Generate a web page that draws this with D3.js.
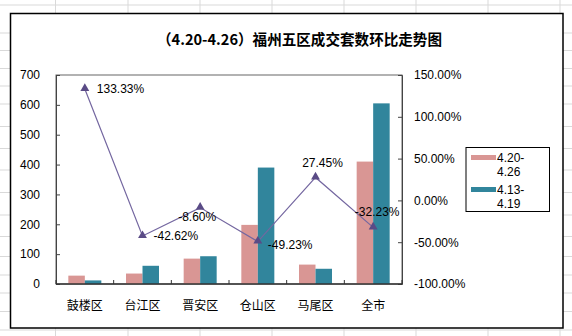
<!DOCTYPE html>
<html><head><meta charset="utf-8">
<script src="https://cdn.jsdelivr.net/npm/d3@7"></script>
<style>html,body{margin:0;padding:0;background:#fff;}svg{display:block;}</style>
</head><body>
<script>
const title = "（4.20-4.26）福州五区成交套数环比走势图";
const categories = ["鼓楼区","台江区","晋安区","仓山区","马尾区","全市"];
const seriesNames = ["4.20-4.26","4.13-4.19"];
const thisWeek = [28, 35, 85, 198, 65, 410];
const lastWeek = [12, 61, 93, 390, 51, 605];
const change = [133.33, -42.62, -8.60, -49.23, 27.45, -32.23];
const leftTicks = [0,100,200,300,400,500,600,700];
const rightTicks = [-100,-50,0,50,100,150];

const W = 572, H = 336;
const colors = ["#d99694", "#31859c"];
const lineColor = "#7467a0", markerColor = "#5a4b86";
const svg = d3.select("body").append("svg").attr("width", W).attr("height", H);

// spreadsheet background grid
const gridX = [55.5,128,200,272,344,416,488,560];
const gridY = [5,33,50.5,68.5,86,104,126.5,148.5,170,192.5,215,236.5,256.5,275,293,311.5,330];
const bg = svg.append("g").attr("stroke", "#d9d9d9").attr("stroke-width", 1);
gridX.forEach(x => bg.append("line").attr("x1", x).attr("x2", x).attr("y1", 0).attr("y2", H));
gridY.forEach(y => bg.append("line").attr("x1", 0).attr("x2", W).attr("y1", y).attr("y2", y));

// chart frame
svg.append("rect").attr("x", 10.5).attr("y", 13.5).attr("width", 552.5).attr("height", 314.5)
  .attr("fill", "#fff").attr("stroke", "#000").attr("stroke-width", 1.5);

svg.append("text").attr("x", 157).attr("y", 45).attr("textLength", 285).attr("lengthAdjust", "spacingAndGlyphs")
  .attr("font-family", "'Noto Sans CJK SC'").attr("font-weight", "bold").attr("font-size", 15)
  .text(title);

const plot = {l: 56, r: 402, t: 75, b: 284};
const x = d3.scaleBand().domain(categories).range([plot.l, plot.r]);
const yL = d3.scaleLinear().domain([0, 700]).range([plot.b, plot.t]);
const yR = d3.scaleLinear().domain([-100, 150]).range([plot.b, plot.t]);
const bw = 16.5;

// plot border
svg.append("rect").attr("x", plot.l).attr("y", plot.t).attr("width", plot.r - plot.l).attr("height", plot.b - plot.t)
  .attr("fill", "none").attr("stroke", "#666").attr("stroke-width", 1);

// bars
const seriesVals = [thisWeek, lastWeek];
seriesVals.forEach((vals, si) => {
  svg.append("g").selectAll("rect").data(categories).join("rect")
    .attr("x", (c) => x(c) + x.bandwidth() / 2 - bw + si * bw)
    .attr("y", (c, i) => yL(vals[i]))
    .attr("width", bw)
    .attr("height", (c, i) => plot.b - yL(vals[i]))
    .attr("fill", colors[si]);
});

// axes
const fontAx = "'Liberation Sans', Arial, sans-serif";
const gL = svg.append("g").attr("transform", `translate(${plot.l},0)`)
  .call(d3.axisLeft(yL).tickValues(leftTicks).tickSize(-4).tickPadding(16).tickFormat(d3.format("d")));
const gR = svg.append("g").attr("transform", `translate(${plot.r},0)`)
  .call(d3.axisRight(yR).tickValues(rightTicks).tickSize(-4).tickPadding(12).tickFormat(d => d.toFixed(2) + "%"));
[gL, gR].forEach(g => {
  g.select(".domain").attr("stroke", "#444");
  g.selectAll(".tick line").attr("stroke", "#444");
  g.selectAll("text").attr("font-family", fontAx).attr("font-size", 12).attr("fill", "#000");
});

// bottom axis
svg.append("line").attr("x1", plot.l).attr("x2", plot.r).attr("y1", plot.b).attr("y2", plot.b)
  .attr("stroke", "#333").attr("stroke-width", 1.5);
const bounds = categories.map((c) => x(c)).concat([plot.r]);
svg.append("g").selectAll("line").data(bounds).join("line")
  .attr("x1", d => d).attr("x2", d => d).attr("y1", plot.b).attr("y2", plot.b - 4)
  .attr("stroke", "#333");
svg.append("g").selectAll("text").data(categories).join("text")
  .attr("x", c => x(c) + x.bandwidth() / 2).attr("y", 309.5).attr("text-anchor", "middle")
  .attr("font-family", "'Noto Sans CJK SC'").attr("font-size", 12).attr("fill", "#000")
  .text(c => c);

// line
const pts = categories.map((c, i) => [x(c) + x.bandwidth() / 2, yR(change[i])]);
svg.append("path").attr("d", d3.line()(pts)).attr("fill", "none").attr("stroke", lineColor).attr("stroke-width", 1.2);
svg.append("g").selectAll("path").data(pts).join("path")
  .attr("transform", d => `translate(${d[0]},${d[1] - 0.5})`)
  .attr("d", d3.symbol(d3.symbolTriangle, 34)())
  .attr("fill", markerColor);

// data labels: offsets relative to points
const labelOffsets = [[12, 4, "start"], [11, 4, "start"], [-3, 13, "middle"], [10, 7, "start"], [7, -10, "middle"], [4, -11, "middle"]];
svg.append("g").selectAll("text").data(pts).join("text")
  .attr("x", (d, i) => d[0] + labelOffsets[i][0])
  .attr("y", (d, i) => d[1] + labelOffsets[i][1])
  .attr("text-anchor", (d, i) => labelOffsets[i][2])
  .attr("font-family", fontAx).attr("font-size", 12).attr("fill", "#000")
  .text((d, i) => change[i].toFixed(2) + "%");

// legend
const lg = svg.append("g");
lg.append("rect").attr("x", 466).attr("y", 147.5).attr("width", 83.5).attr("height", 64)
  .attr("fill", "#fff").attr("stroke", "#000").attr("stroke-width", 1);
seriesNames.forEach((s, i) => {
  const y0 = 155 + i * 32;
  lg.append("rect").attr("x", 471).attr("y", y0).attr("width", 25).attr("height", 5).attr("fill", colors[i]);
  const parts = s.split("-");
  const t = lg.append("text").attr("font-family", fontAx).attr("font-size", 12).attr("fill", "#000");
  t.append("tspan").attr("x", 497).attr("y", y0 + 7).text(parts[0] + "-");
  t.append("tspan").attr("x", 497).attr("y", y0 + 21).text(parts[1]);
});
</script>
</body></html>
